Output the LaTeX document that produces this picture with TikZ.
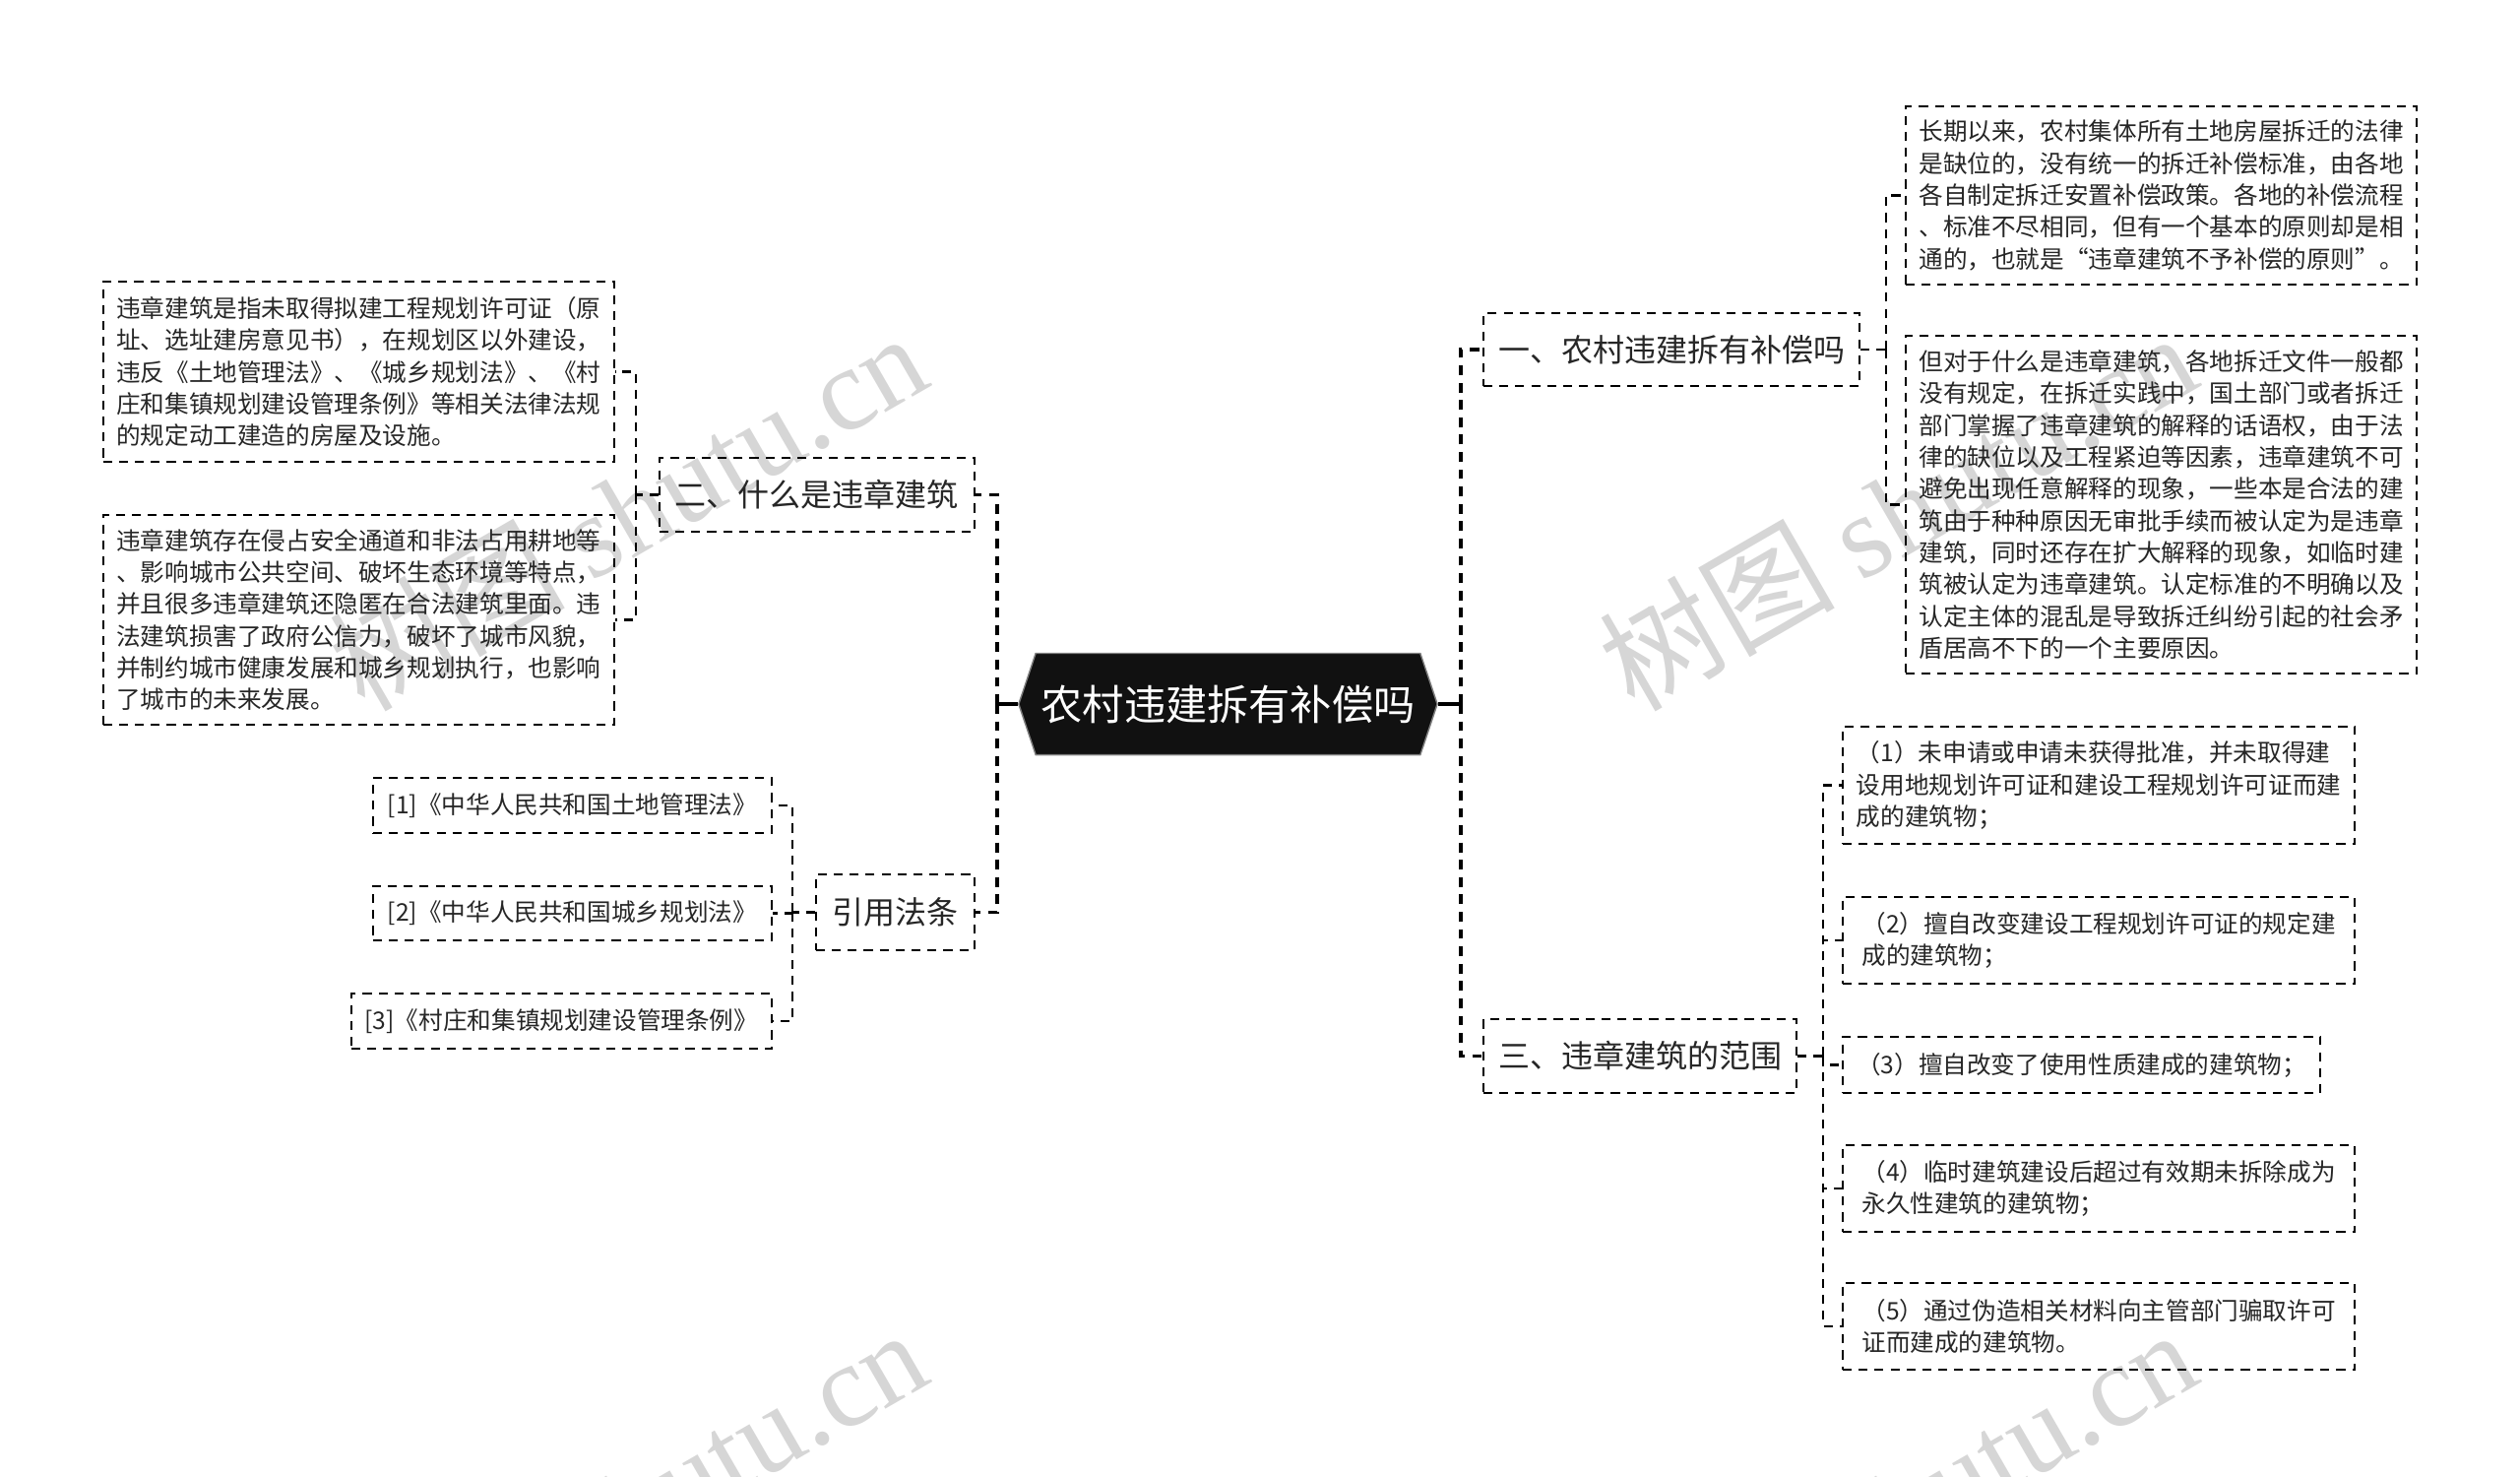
\documentclass[tikz,border=0pt]{standalone}
\usepackage{fontspec}
\setmainfont{Noto Sans CJK SC}
\newfontfamily\wmfont{Liberation Serif}
\usetikzlibrary{shapes.symbols}
\definecolor{wmgray}{RGB}{214,214,214}
\definecolor{rootfill}{RGB}{17,17,17}
\begin{document}
\begin{tikzpicture}[x=0.01cm, y=-0.01cm,
  box/.style={draw, dash pattern=on 2.6pt off 2pt, line width=0.55pt, align=left,
    inner sep=0pt, text=black!85, font=\fontsize{7}{9.2}\selectfont},
  topic/.style={box, font=\fontsize{9.1}{11}\selectfont},
  link/.style={dash pattern=on 2.6pt off 2pt, line width=0.6pt},
  trunk/.style={dash pattern=on 2.8pt off 2.2pt, line width=1.1pt},
  wmark/.style={rotate=30, text=wmgray, font=\fontsize{34}{40}\selectfont}]
  \useasboundingbox (0,0) rectangle (2560,1499);

  % watermark
  \begin{scope}
    \clip (0,0) rectangle (2560,1499);
    \foreach \wx/\wy [count=\i] in {637/518, 1927/518, 637/1530, 1927/1530}
      \node[wmark] (wm\i) at (\wx,\wy) {树图 {\wmfont shutu.cn}};
  \end{scope}

  \node[signal, signal to=west and east, signal pointer angle=143, fill=rootfill,
    draw=gray, text=white, inner sep=0pt, minimum width=4.25cm, minimum height=1.03cm,
    font=\fontsize{12}{14}\selectfont] (root) at (1247.5,715) {农村违建拆有补偿吗};

  \node[topic, anchor=west, minimum width=3.82cm, minimum height=0.74cm] (q1) at (1506,355) {一、农村违建拆有补偿吗};
  \node[topic, anchor=west, minimum width=3.18cm, minimum height=0.75cm] (q3) at (1506,1072.5) {三、违章建筑的范围};
  \node[topic, anchor=east, minimum width=3.2cm, minimum height=0.75cm] (q2) at (991,502.5) {二、什么是违章建筑};
  \node[topic, anchor=east, minimum width=1.61cm, minimum height=0.77cm] (q4) at (991,926.5) {引用法条};

  \node[box, anchor=west, minimum width=5.19cm, minimum height=1.81cm] (a1) at (1935,198.5) {长期以来，农村集体所有土地房屋拆迁的法律\\是缺位的，没有统一的拆迁补偿标准，由各地\\各自制定拆迁安置补偿政策。各地的补偿流程\\、标准不尽相同，但有一个基本的原则却是相\\通的，也就是“违章建筑不予补偿的原则”。};
  \node[box, anchor=west, minimum width=5.19cm, minimum height=3.43cm] (a2) at (1935,512.5) {但对于什么是违章建筑，各地拆迁文件一般都\\没有规定，在拆迁实践中，国土部门或者拆迁\\部门掌握了违章建筑的解释的话语权，由于法\\律的缺位以及工程紧迫等因素，违章建筑不可\\避免出现任意解释的现象，一些本是合法的建\\筑由于种种原因无审批手续而被认定为是违章\\建筑，同时还存在扩大解释的现象，如临时建\\筑被认定为违章建筑。认定标准的不明确以及\\认定主体的混乱是导致拆迁纠纷引起的社会矛\\盾居高不下的一个主要原因。};

  \node[box, anchor=east, minimum width=5.19cm, minimum height=1.83cm] (b1) at (625,377.5) {违章建筑是指未取得拟建工程规划许可证（原\\址、选址建房意见书），在规划区以外建设，\\违反《土地管理法》、《城乡规划法》、《村\\庄和集镇规划建设管理条例》等相关法律法规\\的规定动工建造的房屋及设施。};
  \node[box, anchor=east, minimum width=5.19cm, minimum height=2.13cm] (b2) at (625,629.5) {违章建筑存在侵占安全通道和非法占用耕地等\\、影响城市公共空间、破坏生态环境等特点，\\并且很多违章建筑还隐匿在合法建筑里面。违\\法建筑损害了政府公信力，破坏了城市风貌，\\并制约城市健康发展和城乡规划执行，也影响\\了城市的未来发展。};

  \node[box, anchor=west, minimum width=5.2cm, minimum height=1.19cm] (c1) at (1871,797.5) {（1）未申请或申请未获得批准，并未取得建\\设用地规划许可证和建设工程规划许可证而建\\成的建筑物；};
  \node[box, anchor=west, minimum width=5.2cm, minimum height=0.88cm] (c2) at (1871,955) {（2）擅自改变建设工程规划许可证的规定建\\成的建筑物；};
  \node[box, anchor=west, minimum width=4.85cm, minimum height=0.57cm] (c3) at (1871,1081.5) {（3）擅自改变了使用性质建成的建筑物；};
  \node[box, anchor=west, minimum width=5.2cm, minimum height=0.88cm] (c4) at (1871,1207) {（4）临时建筑建设后超过有效期未拆除成为\\永久性建筑的建筑物；};
  \node[box, anchor=west, minimum width=5.2cm, minimum height=0.88cm] (c5) at (1871,1347) {（5）通过伪造相关材料向主管部门骗取许可\\证而建成的建筑物。};

  \node[box, anchor=east, minimum width=4.05cm, minimum height=0.56cm] (d1) at (785,818) {[1]《中华人民共和国土地管理法》};
  \node[box, anchor=east, minimum width=4.05cm, minimum height=0.55cm] (d2) at (785,927.5) {[2]《中华人民共和国城乡规划法》};
  \node[box, anchor=east, minimum width=4.27cm, minimum height=0.56cm] (d3) at (785,1037) {[3]《村庄和集镇规划建设管理条例》};

  % connectors
  \draw[line width=1.1pt] (root.east) -- ++(23,0) coordinate (rj);
  \draw[trunk] (rj) |- (q1.west);
  \draw[trunk] (rj) |- (q3.west);
  \draw[line width=1.1pt] (root.west) -- ++(-21,0) coordinate (lj);
  \draw[trunk] (lj) |- (q2.east);
  \draw[trunk] (lj) |- (q4.east);

  \draw[link] (q1.east) -- ++(26,0) coordinate (j1);
  \foreach \n in {a1,a2} \draw[link] (j1) |- (\n.west);
  \draw[link] (q3.east) -- ++(26,0) coordinate (j3);
  \foreach \n in {c1,c2,c3,c4,c5} \draw[link] (j3) |- (\n.west);
  \draw[link] (q2.west) -- ++(-23,0) coordinate (j2);
  \foreach \n in {b1,b2} \draw[link] (j2) |- (\n.east);
  \draw[link] (q4.west) -- ++(-23,0) coordinate (j4);
  \foreach \n in {d1,d2,d3} \draw[link] (j4) |- (\n.east);
\end{tikzpicture}
\end{document}
